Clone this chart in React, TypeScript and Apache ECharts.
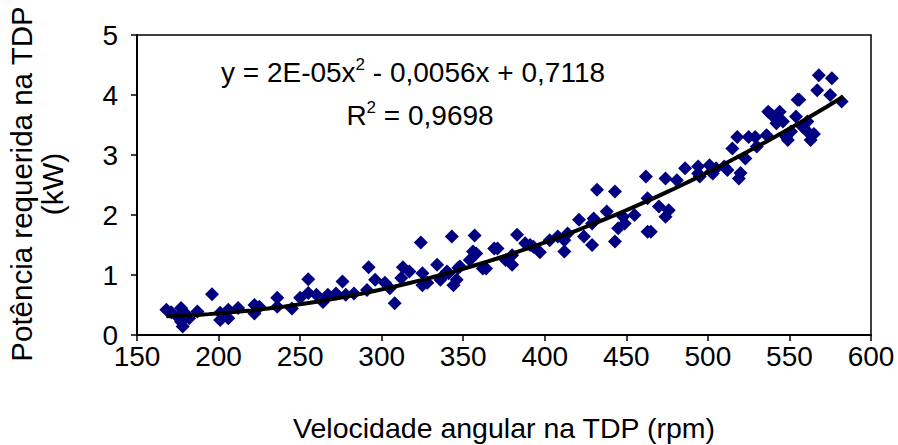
import React, { useEffect, useRef } from "react";
import * as echarts from "echarts";

const xTicks = { min: 150, max: 600, interval: 50 };
const yTicks = { min: 0, max: 5, interval: 1 };

const rpm: number[] = [
  168, 171, 175, 177, 177, 178, 180, 182, 187, 196, 201, 201, 206, 206, 212, 222, 222, 225, 236, 236,
  245, 250, 255, 255, 260, 264, 267, 272, 276, 278, 283, 291, 292, 296, 302, 305, 308, 312, 313, 317,
  324, 325, 325, 328, 334, 336, 337, 340, 341, 343, 344, 346, 347, 348, 354, 356, 357, 358, 362, 364,
  369, 371, 376, 380, 380, 383, 388, 391, 393, 397, 403, 408, 412, 412, 414, 421, 424, 429, 429, 430,
  432, 438, 443, 443, 445, 448, 449, 455, 462, 463, 463, 465, 470, 474, 474, 476, 481, 486, 494, 494,
  495, 501, 502, 503, 505, 510, 512, 515, 518, 519, 520, 523, 525, 529, 530, 536, 537, 539, 542, 542,
  544, 546, 548, 549, 551, 554, 555, 556, 558, 561, 561, 563, 565, 567, 568, 575, 576, 582
];
const kw: number[] = [
  0.42, 0.38, 0.3, 0.45, 0.22, 0.14, 0.35, 0.28, 0.39, 0.68, 0.37, 0.25, 0.42, 0.28, 0.45, 0.5, 0.36, 0.47, 0.62, 0.47,
  0.44, 0.62, 0.93, 0.7, 0.67, 0.55, 0.67, 0.69, 0.89, 0.67, 0.69, 0.75, 1.13, 0.92, 0.87, 0.78, 0.53, 0.95, 1.13, 1.06,
  1.54, 0.83, 1.03, 0.87, 1.17, 0.92, 0.97, 1.06, 1.03, 1.64, 0.83, 0.92, 1.12, 1.14, 1.25, 1.39, 1.66, 1.36, 1.11, 1.11,
  1.44, 1.44, 1.25, 1.17, 1.33, 1.67, 1.53, 1.5, 1.47, 1.38, 1.58, 1.64, 1.39, 1.58, 1.69, 1.92, 1.64, 1.86, 1.5, 1.94,
  2.42, 2.06, 2.39, 1.56, 1.78, 1.97, 1.86, 2.0, 2.64, 2.28, 1.72, 1.72, 2.14, 2.61, 1.97, 2.08, 2.58, 2.78, 2.81, 2.69,
  2.64, 2.83, 2.72, 2.69, 2.78, 2.81, 2.75, 3.11, 3.3, 2.61, 2.7, 2.94, 3.3, 3.3, 3.14, 3.33, 3.72, 3.67, 3.53, 3.64,
  3.72, 3.56, 3.3, 3.25, 3.39, 3.64, 3.92, 3.92, 3.47, 3.56, 3.39, 3.25, 3.35, 4.08, 4.33, 4.0, 4.28, 3.89
];

// trendline: quadratic y = a x^2 + b x + c (as drawn)
const trendCoefficients = [1.92e-5, -0.0056, 0.7118];
const trendRange = [168, 583];

const equationText = ["y = 2E-05x", "2", " - 0,0056x + 0,7118"];
const r2Text = ["R", "2", " = 0,9698"];
const xTitle = "Velocidade angular na TDP (rpm)";
const yTitle = "Potência requerida na TDP\n(kW)";

const FONT = "Liberation Sans, Arial, sans-serif";

export default function App() {
  const ref = useRef<HTMLDivElement>(null);
  useEffect(() => {
    document.body.style.margin = "0";
    if (!ref.current) return;
    const chart = echarts.init(ref.current, null, { renderer: "svg" });
    const points = rpm.map((x, i) => [x, kw[i]]);
    const trend: number[][] = [];
    const steps = 80;
    for (let i = 0; i <= steps; i++) {
      const x = trendRange[0] + ((trendRange[1] - trendRange[0]) * i) / steps;
      const [a, b, c] = trendCoefficients;
      trend.push([x, a * x * x + b * x + c]);
    }
    const rich = {
      a: { fontSize: 28, fontFamily: FONT, color: "#000", lineHeight: 30, verticalAlign: "bottom" },
      s: { fontSize: 17, fontFamily: FONT, color: "#000", lineHeight: 30, verticalAlign: "top", padding: [0, 0, 14, 0] },
    };
    chart.setOption({
      animation: false,
      backgroundColor: "#fff",
      grid: { left: 137, right: 27, top: 35, bottom: 110, show: true, borderColor: "#000", borderWidth: 1.5 },
      xAxis: {
        type: "value",
        min: xTicks.min,
        max: xTicks.max,
        interval: xTicks.interval,
        axisLine: { show: true, lineStyle: { color: "#000", width: 2 } },
        axisTick: { show: true, inside: false, length: 6, lineStyle: { color: "#000", width: 1.5 } },
        axisLabel: { color: "#000", fontSize: 28, fontFamily: FONT, margin: 7 },
        splitLine: { show: false },
      },
      yAxis: {
        type: "value",
        min: yTicks.min,
        max: yTicks.max,
        interval: yTicks.interval,
        axisLine: { show: true, lineStyle: { color: "#000", width: 2 } },
        axisTick: { show: true, inside: false, length: 6, lineStyle: { color: "#000", width: 1.5 } },
        axisLabel: { color: "#000", fontSize: 28, fontFamily: FONT, margin: 19 },
        splitLine: { show: false },
      },
      series: [
        {
          type: "scatter",
          data: points,
          symbol: "diamond",
          symbolSize: 14,
          itemStyle: { color: "#000080", opacity: 1 },
          z: 2,
        },
        {
          type: "line",
          data: trend,
          showSymbol: false,
          smooth: false,
          lineStyle: { color: "#000", width: 4 },
          z: 3,
        },
      ],
      graphic: [
        {
          type: "text",
          x: 504,
          y: 428,
          style: { text: xTitle, font: `28.5px ${FONT}`, fill: "#000", align: "center", verticalAlign: "middle" },
        },
        {
          type: "text",
          x: 37,
          y: 184,
          rotation: Math.PI / 2,
          style: {
            text: yTitle,
            font: `29.5px ${FONT}`,
            fill: "#000",
            align: "center",
            verticalAlign: "middle",
            lineHeight: 31,
          },
        },
        {
          type: "text",
          x: 413,
          y: 71,
          style: {
            text: `{a|${equationText[0]}}{s|${equationText[1]}}{a|${equationText[2]}}`,
            rich,
            align: "center",
            verticalAlign: "middle",
          },
        },
        {
          type: "text",
          x: 420,
          y: 114,
          style: {
            text: `{a|${r2Text[0]}}{s|${r2Text[1]}}{a|${r2Text[2]}}`,
            rich,
            align: "center",
            verticalAlign: "middle",
          },
        },
      ],
    });
    return () => chart.dispose();
  }, []);
  return <div ref={ref} style={{ width: 898, height: 445 }} />;
}
